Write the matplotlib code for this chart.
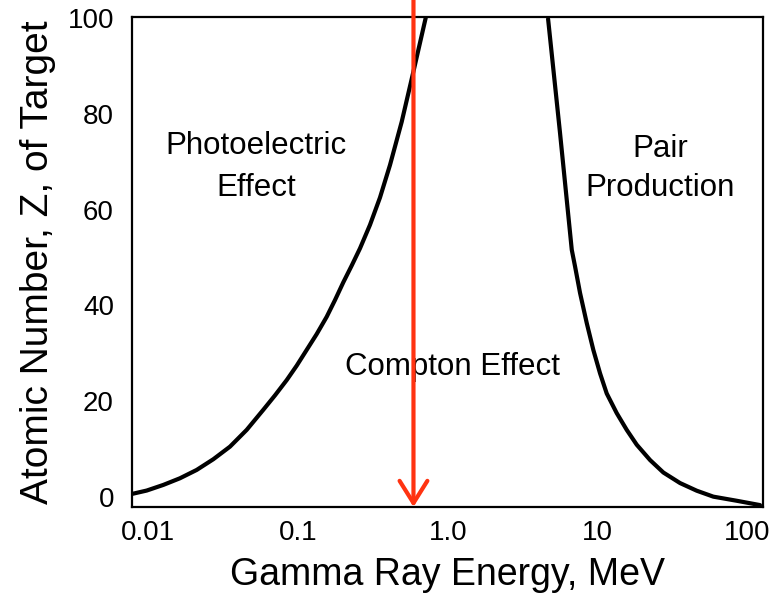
import matplotlib
matplotlib.use("Agg")
import matplotlib.pyplot as plt

# left boundary: photoelectric / compton
photo_energy = [0.0078, 0.00977, 0.01262, 0.0163, 0.02108, 0.02721, 0.03516,
                0.04545, 0.0587, 0.0702, 0.0841, 0.098, 0.1143, 0.1333,
                0.1554, 0.1766, 0.2006, 0.2283, 0.2594, 0.3024, 0.3526,
                0.4113, 0.4922, 0.5884, 0.7118]
photo_z = [0.63, 1.33, 2.51, 3.9, 5.64, 7.87, 10.5, 14.0, 18.2, 21.2, 24.4,
           27.4, 30.7, 34.0, 37.6, 41.1, 44.8, 48.3, 51.9, 56.8, 62.5, 69.3,
           78.3, 88.7, 100.0]

# right boundary: compton / pair production
pair_energy = [4.67, 5.61, 6.72, 7.07, 7.63, 8.46, 9.36, 10.38, 11.5, 13.41,
               15.64, 18.24, 22.39, 27.46, 35.48, 45.87, 59.2, 84.9, 121.3]
pair_z = [99.8, 76.0, 51.6, 48.1, 42.6, 36.3, 30.7, 25.8, 21.6, 17.5, 14.0,
          10.9, 7.7, 5.1, 2.9, 1.3, 0.06, -0.8, -1.7]

x_ticks = [0.01, 0.1, 1.0, 10, 100]
x_tick_labels = ["0.01", "0.1", "1.0", "10", "100"]
y_ticks = [0, 20, 40, 60, 80, 100]

marked_energy = 0.59  # red arrow

plt.rcParams["font.family"] = ["Liberation Sans", "DejaVu Sans"]

fig = plt.figure(figsize=(7.73, 6.0), dpi=100)
ax = fig.add_axes([132 / 773, 93 / 600, 631 / 773, 490 / 600])

ax.plot(photo_energy, photo_z, color="black", lw=3, solid_capstyle="round")
ax.plot(pair_energy, pair_z, color="black", lw=3, solid_capstyle="round")

ax.set_xscale("log")
ax.set_xlim(0.0078, 127)
ax.set_ylim(-2.1, 100.2)
ax.set_xticks(x_ticks)
ax.set_xticklabels(x_tick_labels)
ax.minorticks_off()
ax.set_yticks(y_ticks)
ax.tick_params(axis="both", length=0, labelsize=20)
ax.tick_params(axis="x", pad=9)
ax.tick_params(axis="y", pad=13)
for s in ax.spines.values():
    s.set_linewidth(1.6)

ax.set_xlabel("Gamma Ray Energy, MeV", fontsize=27, labelpad=8)
ax.set_ylabel("Atomic Number, Z, of Target", fontsize=28, labelpad=8)

fs = 22.5
ax.text(0.0525, 71.6, "Photoelectric", fontsize=fs, ha="center", va="baseline")
ax.text(0.0525, 62.8, "Effect", fontsize=fs, ha="center", va="baseline")
ax.text(26.1, 71.0, "Pair", fontsize=fs, ha="center", va="baseline")
ax.text(26.1, 62.8, "Production", fontsize=fs, ha="center", va="baseline")
ax.text(1.07, 25.5, "Compton Effect", fontsize=fs, ha="center", va="baseline")

ax.annotate("", xy=(marked_energy, -2.1), xytext=(marked_energy, 104),
            arrowprops=dict(arrowstyle="->,head_length=0.8,head_width=0.5",
                            color="#ff3311", lw=3, shrinkA=0, shrinkB=0,
                            mutation_scale=20),
            annotation_clip=False)

fig.savefig("out.png", dpi=100)
